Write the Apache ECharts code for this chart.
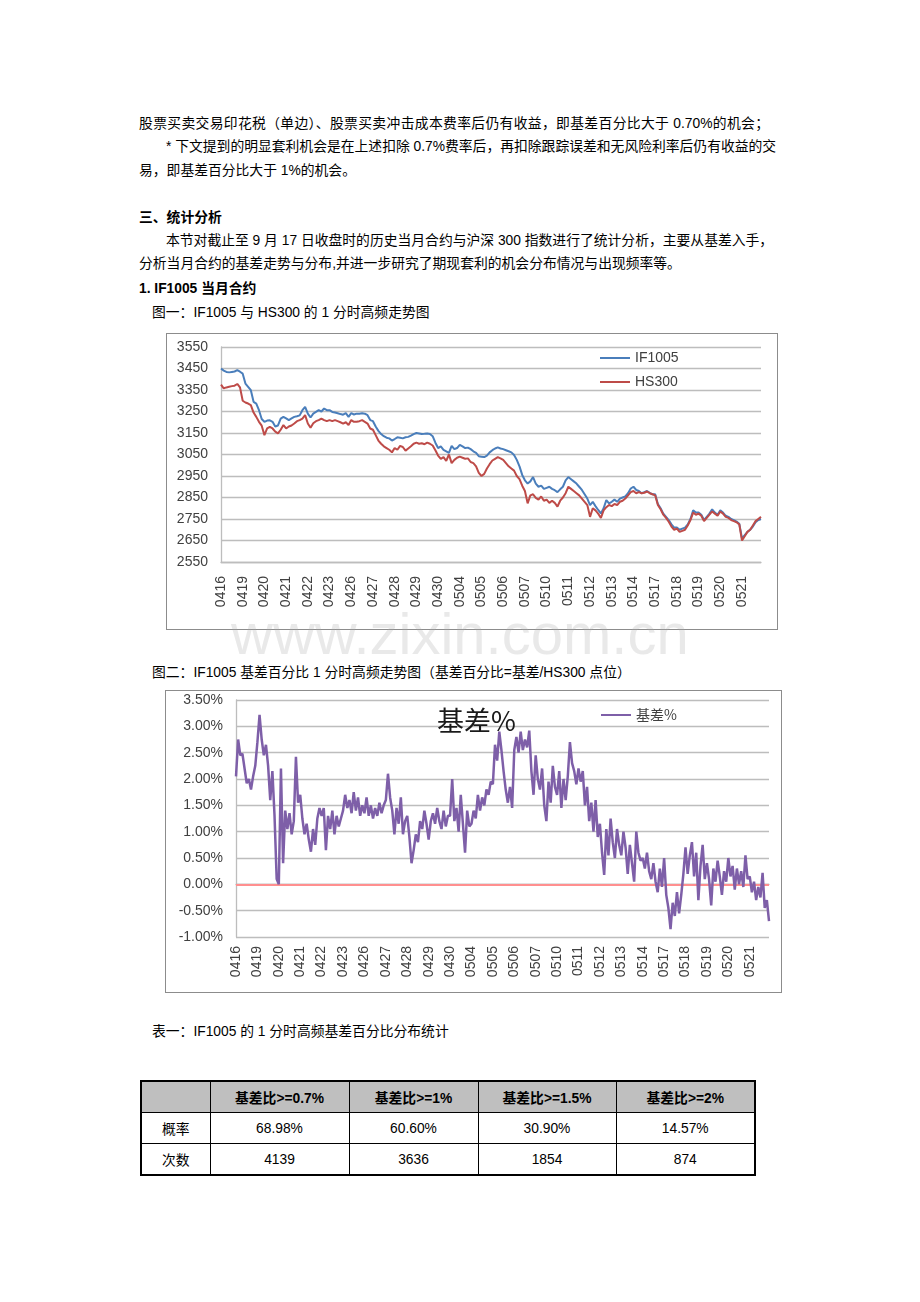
<!DOCTYPE html>
<html><head><meta charset="utf-8">
<script src="https://cdn.jsdelivr.net/npm/echarts@6/dist/echarts.min.js"></script>
<style>
body{margin:0;background:#fff;}
#page{position:relative;width:920px;height:1302px;overflow:hidden;background:#fff;font-family:"Liberation Sans","Noto Sans CJK SC",sans-serif;font-size:13.8px;color:#000;}
.ln{position:absolute;height:20px;line-height:20px;white-space:nowrap;}
.j{text-align:justify;text-align-last:justify;}
.b{font-weight:bold;}
.box{position:absolute;border:1px solid #8c8c8c;box-sizing:border-box;background:#fff;}
.chart{position:absolute;left:0;top:0;width:100%;height:100%;}
#wm{position:absolute;left:231px;top:605px;font-family:"Liberation Sans",sans-serif;font-size:58px;line-height:58px;color:rgba(170,170,170,0.26);white-space:nowrap;pointer-events:none;z-index:10;}
#tbl{position:absolute;left:140px;top:1080px;width:614px;height:96px;border-collapse:collapse;border:2px solid #000;table-layout:fixed;font-size:13.8px;}
#tbl td{border:1px solid #000;text-align:center;height:30px;padding:0;}
#tbl tr.h td{background:#bfbfbf;font-weight:bold;}
</style></head>
<body><div id="page">
<div class="ln j" style="left:139px;top:114px;width:630px;">股票买卖交易印花税（单边）、股票买卖冲击成本费率后仍有收益，即基差百分比大于 0.70%的机会；</div>
<div class="ln j" style="left:166px;top:137px;width:603px;">* 下文提到的明显套利机会是在上述扣除 0.7%费率后，再扣除跟踪误差和无风险利率后仍有收益的交</div>
<div class="ln" style="left:139px;top:161px;">易，即基差百分比大于 1%的机会。</div>
<div class="ln b" style="left:139px;top:208px;">三、统计分析</div>
<div class="ln j" style="left:166px;top:231px;width:605px;">本节对截止至 9 月 17 日收盘时的历史当月合约与沪深 300 指数进行了统计分析，主要从基差入手，</div>
<div class="ln" style="left:139px;top:254px;">分析当月合约的基差走势与分布,并进一步研究了期现套利的机会分布情况与出现频率等。</div>
<div class="ln b" style="left:139px;top:279px;">1. IF1005 当月合约</div>
<div class="ln" style="left:152px;top:303px;">图一：IF1005 与 HS300 的 1 分时高频走势图</div>
<div class="box" style="left:166px;top:333px;width:612px;height:297px;"><div id="c1" class="chart"></div></div>
<div id="wm">www.zixin.com.cn</div>
<div class="ln" style="left:152px;top:663px;">图二：IF1005 基差百分比 1 分时高频走势图（基差百分比=基差/HS300 点位）</div>
<div class="box" style="left:165px;top:690px;width:617px;height:303px;"><div id="c2" class="chart"></div></div>
<div class="ln" style="left:152px;top:1022px;">表一：IF1005 的 1 分时高频基差百分比分布统计</div>
<table id="tbl">
<colgroup><col style="width:69px"><col style="width:139px"><col style="width:129px"><col style="width:138px"><col style="width:139px"></colgroup>
<tbody id="tb"></tbody>
</table>
</div>
<script>
// ---------- data ----------
var days = ['0416','0419','0420','0421','0422','0423','0426','0427','0428','0429','0430','0504','0505','0506','0507','0510','0511','0512','0513','0514','0517','0518','0519','0520','0521'];
var if1005 = [
3450,3440,3434,3432,3434,3436,3442,3435,
3426,3380,3365,3349,3295,3287,3256,3215,
3202,3208,3209,3202,3180,3185,3217,3225,
3218,3210,3218,3225,3228,3232,3256,3272,
3240,3222,3240,3248,3256,3250,3264,3256,
3256,3248,3245,3242,3238,3235,3242,3225,
3242,3236,3240,3240,3242,3240,3233,3210,
3205,3180,3160,3145,3135,3128,3125,3115,
3122,3130,3128,3125,3130,3132,3138,3145,
3150,3148,3145,3146,3148,3145,3135,3105,
3080,3088,3072,3065,3058,3090,3075,3080,
3095,3088,3080,3082,3075,3065,3058,3042,
3040,3038,3045,3060,3070,3078,3083,3078,
3075,3070,3065,3060,3048,3025,2995,2955,
2930,2915,2925,2945,2915,2900,2905,2890,
2895,2900,2890,2884,2875,2888,2900,2930,
2945,2935,2925,2915,2900,2885,2865,2845,
2815,2830,2810,2792,2776,2800,2838,2823,
2830,2840,2830,2845,2850,2855,2870,2892,
2900,2885,2880,2870,2875,2880,2872,2865,
2865,2820,2800,2775,2760,2745,2725,2710,
2710,2700,2705,2710,2725,2750,2790,2780,
2780,2770,2745,2760,2775,2795,2780,2770,
2790,2780,2765,2760,2750,2745,2738,2728,
2660,2675,2690,2700,2715,2735,2745,2750];
var hs300 = [
3375,3358,3362,3365,3368,3370,3378,3362,
3300,3292,3287,3280,3245,3225,3202,3184,
3140,3171,3178,3171,3156,3148,3165,3187,
3171,3180,3185,3194,3205,3210,3217,3233,
3194,3174,3195,3205,3210,3217,3210,3205,
3210,3205,3210,3205,3200,3194,3200,3187,
3210,3202,3202,3205,3210,3202,3194,3171,
3165,3140,3115,3100,3088,3080,3072,3060,
3080,3072,3090,3085,3068,3078,3088,3100,
3105,3100,3102,3098,3105,3100,3092,3070,
3045,3030,3038,3020,3050,3010,3025,3035,
3040,3035,3030,3032,3015,3010,2995,2965,
2950,2960,2985,3005,3022,3030,3038,3032,
3025,3010,2995,2985,2975,2950,2935,2905,
2880,2823,2860,2865,2848,2840,2855,2835,
2840,2825,2835,2825,2808,2835,2850,2870,
2900,2890,2880,2870,2860,2845,2830,2815,
2760,2800,2790,2775,2755,2790,2805,2815,
2810,2820,2815,2830,2835,2845,2860,2875,
2880,2870,2875,2870,2872,2878,2870,2865,
2860,2815,2795,2770,2755,2737,2715,2700,
2705,2690,2695,2700,2720,2745,2780,2770,
2775,2765,2740,2755,2770,2785,2775,2765,
2785,2775,2760,2755,2745,2740,2735,2725,
2650,2670,2690,2700,2720,2740,2750,2760];
var basisPct = [
2.05,2.75,2.45,2.48,2.20,1.92,2.00,1.80,2.05,2.25,
2.70,3.22,2.75,2.45,2.65,2.25,1.60,2.15,1.30,0.10,
0.00,2.20,0.40,1.40,1.05,1.35,0.95,1.20,2.42,1.55,
1.70,1.25,0.95,1.15,0.85,0.62,1.05,0.75,1.25,1.45,
1.30,1.45,0.65,1.30,1.05,1.40,0.95,1.30,1.10,1.25,
1.40,1.70,1.45,1.60,1.35,1.75,1.40,1.65,1.30,1.50,
1.35,1.65,1.30,1.50,1.25,1.45,1.30,1.55,1.35,1.50,
1.60,2.10,1.65,1.40,0.95,1.45,1.15,1.65,0.95,1.20,
1.30,0.90,0.40,0.65,0.95,0.80,1.20,1.05,1.40,1.15,
0.85,1.20,1.35,1.15,1.45,1.20,1.05,1.40,1.10,1.30,
1.30,2.00,1.20,1.45,1.00,1.70,1.15,0.60,1.40,1.10,
1.15,1.40,1.25,1.70,1.40,1.65,1.50,1.80,1.70,1.95,
1.90,2.65,2.35,2.90,2.55,2.15,1.80,1.55,1.85,1.45,
2.55,2.80,2.50,2.90,2.55,2.75,2.60,2.92,2.15,1.70,
2.45,2.00,1.80,2.20,1.50,1.20,1.95,1.55,2.25,1.85,
1.70,2.15,1.45,2.00,1.60,2.05,2.70,2.30,2.15,1.90,
2.20,1.95,2.15,1.50,1.85,1.20,1.55,1.00,1.60,0.90,
1.15,0.60,0.18,1.05,0.55,1.25,0.80,0.50,1.05,0.75,
0.55,1.00,0.70,0.20,0.75,0.40,0.05,1.00,0.60,0.45,
0.50,0.30,0.60,0.25,0.10,0.40,0.05,-0.15,0.30,-0.05,
0.50,-0.20,-0.45,-0.85,-0.35,-0.60,-0.15,-0.55,-0.20,0.20,
0.70,0.20,0.55,0.80,0.15,0.60,-0.30,0.35,0.75,0.10,
0.40,0.10,-0.40,0.30,0.05,0.45,0.15,-0.20,0.25,0.05,
0.50,0.15,0.35,-0.10,0.30,0.00,0.25,-0.05,0.55,0.10,
0.15,-0.15,0.05,-0.30,-0.05,-0.25,0.22,-0.45,-0.30,-0.70];
var priceAxis = {min: 2550, max: 3550, step: 100};
var basisAxis = {min: -1, max: 3.5, step: 0.5};
var seriesNames1 = ['IF1005', 'HS300'];
var seriesName2 = '基差%';
var tableHead = ['', '基差比>=0.7%', '基差比>=1%', '基差比>=1.5%', '基差比>=2%'];
var rowProb = ['概率', '68.98%', '60.60%', '30.90%', '14.57%'];
var rowCount = ['次数', '4139', '3636', '1854', '874'];

// ---------- table ----------
(function(){
  var tb = document.getElementById('tb');
  [[tableHead,'h'],[rowProb,''],[rowCount,'']].forEach(function(r){
    var tr = document.createElement('tr'); if (r[1]) tr.className = r[1];
    r[0].forEach(function(c){ var td = document.createElement('td'); td.textContent = c; tr.appendChild(td); });
    tb.appendChild(tr);
  });
})();

function buildCats(perDay){
  var c = [];
  days.forEach(function(d){ for (var i = 0; i < perDay; i++) c.push(d + '-' + i); });
  return c;
}
var per1 = if1005.length / days.length;
var per2 = basisPct.length / days.length;
var cats1 = buildCats(per1), cats2 = buildCats(per2);
var numFont = '"Liberation Sans", "Noto Sans CJK SC", sans-serif';
var gridLine = {lineStyle: {color: '#bdbdbd', width: 1.3}};

var c1 = echarts.init(document.getElementById('c1'), null, {renderer: 'canvas'});
c1.setOption({
  animation: false,
  backgroundColor: '#fff',
  grid: {left: 54, right: 16, top: 13, bottom: 67},
  legend: {
    orient: 'vertical', left: 428, top: 11, icon: 'rect', itemWidth: 30, itemHeight: 2, itemGap: 8,
    textStyle: {fontFamily: numFont, fontSize: 14, color: '#404040', lineHeight: 16},
    data: seriesNames1
  },
  xAxis: {
    type: 'category', data: cats1, boundaryGap: false,
    axisLine: {show: true, lineStyle: {color: '#bdbdbd', width: 1.3}},
    axisTick: {show: false},
    axisLabel: {
      rotate: 90, margin: 14, fontFamily: numFont, fontSize: 14, color: '#404040',
      interval: function(i){ return i % per1 === 0; },
      formatter: function(v){ return v.split('-')[0]; }
    },
    splitLine: {show: false}
  },
  yAxis: {
    type: 'value', min: priceAxis.min, max: priceAxis.max, interval: priceAxis.step,
    axisLine: {show: true, lineStyle: {color: '#bdbdbd', width: 1.3}},
    axisTick: {show: false},
    axisLabel: {margin: 13, fontFamily: numFont, fontSize: 14, color: '#404040',
      formatter: function(v){ return String(v); }},
    splitLine: gridLine
  },
  series: [
    {name: seriesNames1[0], type: 'line', data: if1005, symbol: 'none', lineStyle: {color: '#4a7ebb', width: 2}, itemStyle: {color: '#4a7ebb'}},
    {name: seriesNames1[1], type: 'line', data: hs300, symbol: 'none', lineStyle: {color: '#be4b48', width: 2}, itemStyle: {color: '#be4b48'}}
  ]
});

var c2 = echarts.init(document.getElementById('c2'), null, {renderer: 'canvas'});
c2.setOption({
  animation: false,
  backgroundColor: '#fff',
  title: {
    text: seriesName2, left: 266, top: 11,
    textStyle: {fontFamily: '"Noto Sans CJK SC", sans-serif', fontSize: 27, fontWeight: 'normal', color: '#1a1a1a'}
  },
  grid: {left: 70, right: 12, top: 9, bottom: 55},
  legend: {
    left: 430, top: 12, icon: 'rect', itemWidth: 30, itemHeight: 2,
    textStyle: {fontFamily: '"Noto Sans CJK SC", sans-serif', fontSize: 14, color: '#404040'},
    data: [seriesName2]
  },
  xAxis: {
    type: 'category', data: cats2, boundaryGap: false,
    axisLine: {show: true, lineStyle: {color: '#bdbdbd', width: 1.3}},
    axisTick: {show: false},
    axisLabel: {
      rotate: 90, margin: 9, fontFamily: numFont, fontSize: 14, color: '#404040',
      interval: function(i){ return i % per2 === 0; },
      formatter: function(v){ return v.split('-')[0]; }
    },
    splitLine: {show: false}
  },
  yAxis: {
    type: 'value', min: basisAxis.min, max: basisAxis.max, interval: basisAxis.step,
    axisLine: {show: true, lineStyle: {color: '#bdbdbd', width: 1.3}},
    axisTick: {show: false},
    axisLabel: {margin: 13, fontFamily: numFont, fontSize: 14, color: '#404040',
      formatter: function(v){ return v.toFixed(2) + '%'; }},
    splitLine: gridLine
  },
  series: [
    {name: seriesName2, type: 'line', data: basisPct, symbol: 'none',
     lineStyle: {color: '#7e5fa8', width: 2.5}, itemStyle: {color: '#7e5fa8'},
     markLine: {silent: true, symbol: 'none', label: {show: false},
       lineStyle: {color: '#ff8f8f', width: 2, type: 'solid'}, data: [{yAxis: 0}], z: 1}}
  ]
});
</script>
</body></html>
